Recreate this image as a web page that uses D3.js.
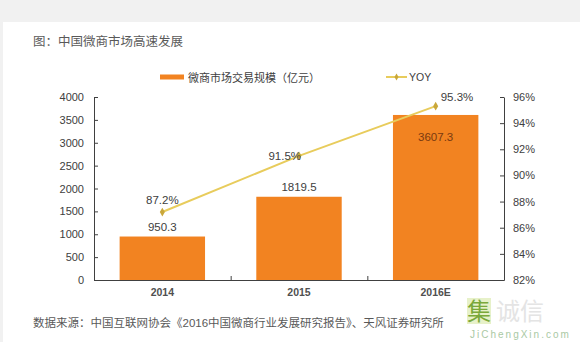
<!DOCTYPE html>
<html><head><meta charset="utf-8">
<script src="https://cdn.jsdelivr.net/npm/d3@7"></script>
<style>
html,body{margin:0;padding:0;background:#f1f1f1;}
svg{display:block;}
text{font-family:"Liberation Sans","Noto Sans CJK SC",Arial,sans-serif;}
</style></head>
<body>
<script>
const categories = ["2014", "2015", "2016E"];
const marketSize = [950.3, 1819.5, 3607.3];
const yoy = [87.2, 91.5, 95.3];
const leftTicks = [0, 500, 1000, 1500, 2000, 2500, 3000, 3500, 4000];
const rightTicks = [82, 84, 86, 88, 90, 92, 94, 96];
const titleText = "图：中国微商市场高速发展";
const sourceText = "数据来源：中国互联网协会《2016中国微商行业发展研究报告》、天风证券研究所";
const legendBar = "微商市场交易规模（亿元）";
const legendLine = "YOY";

const W = 580, H = 342;
const svg = d3.select("body").append("svg").attr("width", W).attr("height", H);
svg.append("rect").attr("x", 0).attr("y", 0).attr("width", W).attr("height", H).attr("fill", "#f1f1f1");
svg.append("rect").attr("x", 3).attr("y", 22).attr("width", W - 3).attr("height", H - 22).attr("fill", "#ffffff");

const textCol = "#404040";
const barCol = "#f28321";
const lineCol = "#e8cc5c";
const markCol = "#c9a73a";

const x0 = 94, x1 = 504, yTop = 97, yBot = 280;
const x = d3.scaleBand().domain(categories).range([x0, x1]).paddingInner(0.375).paddingOuter(0.1875);
const xc = d3.scaleBand().domain(categories).range([x0, x1]);
const yL = d3.scaleLinear().domain([0, 4000]).range([yBot, yTop]);
const yR = d3.scaleLinear().domain([82, 96]).range([yBot, yTop]);

// title
svg.append("text").attr("x", 33).attr("y", 46).attr("font-size", 12.5).attr("fill", "#595959")
  .attr("font-family", "Noto Sans CJK SC").text(titleText);

// legend
svg.append("rect").attr("x", 160).attr("y", 74.5).attr("width", 24).attr("height", 5).attr("fill", barCol);
svg.append("text").attr("x", 188).attr("y", 81.5).attr("font-size", 11).attr("fill", textCol)
  .attr("font-family", "Noto Sans CJK SC").text(legendBar);
svg.append("line").attr("x1", 386).attr("x2", 407).attr("y1", 77).attr("y2", 77).attr("stroke", lineCol).attr("stroke-width", 2);
svg.append("path").attr("d", d3.symbol(d3.symbolDiamond, 14)()).attr("transform", "translate(396.5,77)").attr("fill", markCol);
svg.append("text").attr("x", 409).attr("y", 81).attr("font-size", 10.5).attr("fill", textCol).text(legendLine);

// bars
svg.selectAll(".bar").data(categories).enter().append("rect")
  .attr("x", d => x(d)).attr("width", x.bandwidth())
  .attr("y", (d, i) => yL(marketSize[i])).attr("height", (d, i) => yBot - yL(marketSize[i]))
  .attr("fill", barCol);

// axes
const axL = svg.append("g").attr("transform", `translate(${x0},0)`)
  .call(d3.axisLeft(yL).tickValues(leftTicks).tickSizeInner(-4).tickSizeOuter(0).tickPadding(10).tickFormat(d3.format("d")));
const axR = svg.append("g").attr("transform", `translate(${x1},0)`)
  .call(d3.axisRight(yR).tickValues(rightTicks).tickSizeInner(-4).tickSizeOuter(0).tickPadding(9).tickFormat(d => d + "%"));
const axB = svg.append("g").attr("transform", `translate(0,${yBot})`)
  .call(d3.axisBottom(xc).tickSize(0).tickPadding(9));
[axL, axR, axB].forEach(g => {
  g.selectAll("path.domain").attr("stroke", "#404040").attr("stroke-width", 1);
  g.selectAll(".tick line").attr("stroke", "#404040");
  g.selectAll("text").attr("fill", textCol).attr("font-size", 11).attr("font-family", "Liberation Sans");
});
axB.selectAll("text").attr("font-weight", "bold").attr("font-size", 10.5).attr("fill", "#505050");
// category separator ticks on x axis (inside)
svg.selectAll(".xsep").data(categories.slice(1)).enter().append("line")
  .attr("x1", d => xc(d) + 0.5).attr("x2", d => xc(d) + 0.5).attr("y1", yBot).attr("y2", yBot - 4)
  .attr("stroke", "#404040");

// bar labels
svg.selectAll(".blab").data(categories).enter().append("text")
  .attr("x", d => x(d) + x.bandwidth() / 2)
  .attr("y", (d, i) => i === 2 ? yL(marketSize[i]) + 26 : yL(marketSize[i]) - 6)
  .attr("text-anchor", "middle").attr("font-size", 11.5)
  .attr("fill", (d, i) => i === 2 ? "#7a3a10" : textCol)
  .text((d, i) => marketSize[i].toFixed(1));

// line
const cx = d => xc(d) + xc.bandwidth() / 2;
const line = d3.line().x((d, i) => cx(categories[i])).y(d => yR(d));
svg.append("path").datum(yoy).attr("d", line).attr("fill", "none").attr("stroke", lineCol).attr("stroke-width", 2);
svg.selectAll(".mk").data(yoy).enter().append("path")
  .attr("d", d3.symbol(d3.symbolDiamond, 22)())
  .attr("transform", (d, i) => `translate(${cx(categories[i])},${yR(d)})`)
  .attr("fill", markCol);
// line labels
const lblPos = [
  {dx: 0, dy: -8, anchor: "middle"},
  {dx: 2, dy: 4, anchor: "end"},
  {dx: 5, dy: -5, anchor: "start"}
];
svg.selectAll(".llab").data(yoy).enter().append("text")
  .attr("x", (d, i) => cx(categories[i]) + lblPos[i].dx)
  .attr("y", (d, i) => yR(d) + lblPos[i].dy)
  .attr("text-anchor", (d, i) => lblPos[i].anchor)
  .attr("font-size", 11.5).attr("fill", textCol)
  .text(d => d.toFixed(1) + "%");

// source
svg.append("text").attr("x", 33).attr("y", 327).attr("font-size", 11.5).attr("fill", "#595959")
  .attr("font-family", "Noto Sans CJK SC").text(sourceText);

// watermark
svg.append("rect").attr("x", 467).attr("y", 298).attr("width", 24).attr("height", 26).attr("fill", "#e3efc0").attr("opacity", 0.85);
svg.append("text").attr("x", 479).attr("y", 320).attr("text-anchor", "middle").attr("font-size", 24)
  .attr("fill", "#7aa83a").attr("font-family", "Noto Sans CJK SC").text("集");
svg.append("text").attr("x", 496).attr("y", 320).attr("font-size", 24).attr("fill", "#e4e4e4")
  .attr("font-family", "Noto Sans CJK SC").text("诚信");
svg.append("text").attr("x", 470).attr("y", 338).attr("font-size", 10).attr("letter-spacing", 2)
  .attr("fill", "#a9c9a4").text("JiChengXin.com");
</script>
</body></html>
